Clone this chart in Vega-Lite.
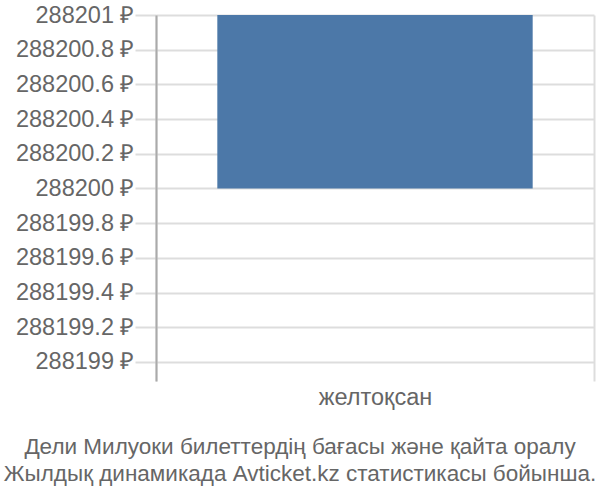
{
  "$schema": "https://vega.github.io/schema/vega-lite/v6.json",
  "autosize": {"type": "none"},
  "padding": {"left": 156, "top": 15, "right": 6, "bottom": 119},
  "width": 438,
  "height": 366,
  "background": "white",
  "config": {
    "view": {"stroke": null},
    "font": "Liberation Sans"
  },
  "title": {
    "text": ["Дели Милуоки билеттердің бағасы және қайта оралу", "Жылдық динамикада Avticket.kz статистикасы бойынша."],
    "orient": "bottom",
    "anchor": "middle",
    "dx": -75,
    "fontSize": 22.5,
    "fontWeight": "normal",
    "color": "#666666",
    "lineHeight": 27,
    "offset": 27,
    "font": "Liberation Sans"
  },
  "data": {
    "values": [
      {"month": "желтоқсан", "price": 288201}
    ]
  },
  "mark": {"type": "bar", "color": "#4c78a8", "width": {"band": 0.72}},
  "encoding": {
    "x": {
      "field": "month",
      "type": "nominal",
      "title": null,
      "scale": {"paddingInner": 0, "paddingOuter": 0},
      "axis": {
        "domain": false,
        "ticks": false,
        "grid": true,
        "tickBand": "extent",
        "gridColor": "#dddddd",
        "gridWidth": 2,
        "labelAngle": 0,
        "labelFontSize": 23.5,
        "labelColor": "#666666",
        "labelPadding": 4
      }
    },
    "y": {
      "field": "price",
      "type": "quantitative",
      "title": null,
      "scale": {"domain": [288198.89, 288201], "nice": false, "zero": false},
      "axis": {
        "values": [288199, 288199.2, 288199.4, 288199.6, 288199.8, 288200, 288200.2, 288200.4, 288200.6, 288200.8, 288201],
        "labelExpr": "toString(datum.value) + ' ₽'",
        "domain": true,
        "domainColor": "#aaaaaa",
        "domainWidth": 2,
        "gridColor": "#dddddd",
        "gridWidth": 2,
        "tickColor": "#dddddd",
        "tickWidth": 2,
        "tickSize": 21,
        "labelPadding": 1,
        "labelFontSize": 23.5,
        "labelColor": "#666666"
      }
    },
    "y2": {"datum": 288200}
  }
}
